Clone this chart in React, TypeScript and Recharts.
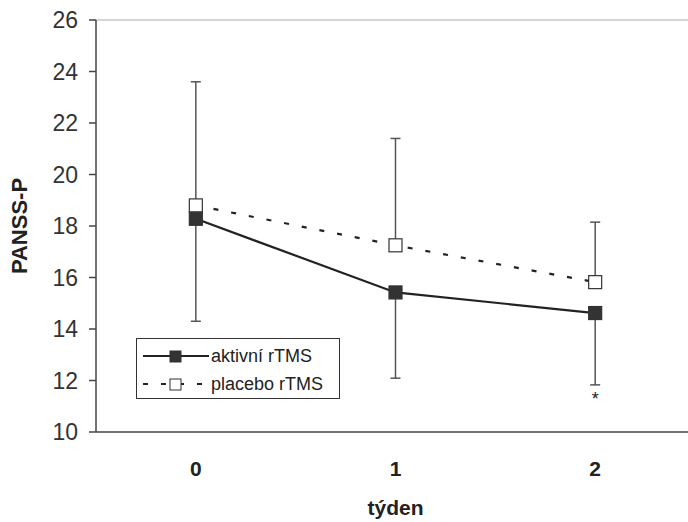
import {
  LineChart,
  Line,
  XAxis,
  YAxis,
  ErrorBar,
  ReferenceLine,
  ReferenceDot,
} from "recharts";

const weeks = [0, 1, 2];
const aktivni = [18.28, 15.42, 14.62];
const aktivniErrDown = [3.98, 3.33, 2.79];
const placebo = [18.8, 17.25, 15.82];
const placeboErrUp = [4.8, 4.15, 2.33];
const yTicks = [10, 12, 14, 16, 18, 20, 22, 24, 26];
const boundaryTicks = [-0.5, 0.5, 1.5, 2.5];
const seriesNames = ["aktivní rTMS", "placebo rTMS"];
// week 2 aktivní is significant (*), marked under its error bar
const sigWeek = 2;

const data = weeks.map((w, i) => ({
  week: w,
  aktivni: aktivni[i],
  aktivniErr: [aktivniErrDown[i], 0],
  placebo: placebo[i],
  placeboErr: [0, placeboErrUp[i]],
}));

const FONT = '"Liberation Sans", Arial, sans-serif';

function Square({ cx, cy, fill }: { cx?: number; cy?: number; fill: string }) {
  if (cx == null || cy == null) return null;
  const s = 13;
  return (
    <rect
      x={cx - s / 2}
      y={cy - s / 2}
      width={s}
      height={s}
      fill={fill}
      stroke="#333"
      strokeWidth={1.2}
    />
  );
}

function LegendBox() {
  return (
    <div
      style={{
        position: "absolute",
        left: 136,
        top: 338,
        border: "1.5px solid #333",
        background: "#fff",
        width: 204,
        height: 61,
        boxSizing: "border-box",
        fontFamily: FONT,
        fontSize: 18,
        color: "#222",
        padding: "3px 0 0 6px",
      }}
    >
      <div style={{ display: "flex", alignItems: "center", height: 28 }}>
        <svg width={66} height={16}>
          <line x1={0} y1={8} x2={66} y2={8} stroke="#222" strokeWidth={2} />
          <rect x={27} y={3} width={11} height={11} fill="#333" stroke="#333" />
        </svg>
        <span style={{ marginLeft: 2 }}>{seriesNames[0]}</span>
      </div>
      <div style={{ display: "flex", alignItems: "center", height: 28 }}>
        <svg width={66} height={16}>
          <line x1={0} y1={8} x2={66} y2={8} stroke="#222" strokeWidth={2} strokeDasharray="5 13" />
          <rect x={27} y={3} width={11} height={11} fill="#fff" stroke="#333" />
        </svg>
        <span style={{ marginLeft: 2 }}>{seriesNames[1]}</span>
      </div>
    </div>
  );
}

export default function App() {
  return (
    <div
      style={{
        position: "absolute",
        left: 0,
        top: 0,
        width: 688,
        height: 522,
        overflow: "hidden",
        background: "#fff",
      }}
    >
      <LineChart
        width={700}
        height={522}
        data={data}
        margin={{ top: 20, right: 5, left: 0, bottom: 0 }}
      >
        <XAxis
          xAxisId="b"
          dataKey="week"
          type="number"
          domain={[-0.5, 2.5]}
          ticks={boundaryTicks}
          tick={false}
          tickSize={6}
          height={8}
          axisLine={{ stroke: "#444", strokeWidth: 1.5 }}
          tickLine={{ stroke: "#444", strokeWidth: 1.5 }}
        />
        <XAxis
          xAxisId="l"
          dataKey="week"
          type="number"
          domain={[-0.5, 2.5]}
          ticks={weeks}
          height={82}
          axisLine={false}
          tickLine={false}
          tickSize={0}
          tickMargin={21}
          tick={{ fontSize: 21, fontWeight: "bold", fill: "#222", fontFamily: FONT }}
          label={{
            value: "týden",
            position: "insideBottom",
            offset: 7,
            style: { fontSize: 21, fontWeight: "bold", fill: "#222", fontFamily: FONT },
          }}
        />
        <YAxis
          domain={[10, 26]}
          ticks={yTicks}
          width={96}
          tickSize={7}
          tickMargin={11}
          axisLine={{ stroke: "#444", strokeWidth: 1.5 }}
          tickLine={{ stroke: "#444", strokeWidth: 1.5 }}
          tick={{ fontSize: 23, fill: "#333", fontFamily: FONT }}
          label={{
            value: "PANSS-P",
            angle: -90,
            position: "insideLeft",
            offset: 19,
            style: { fontSize: 22, fontWeight: "bold", fill: "#222", fontFamily: FONT, textAnchor: "middle" },
          }}
        />
        <ReferenceLine xAxisId="b" y={26} stroke="#d6d6d6" strokeWidth={2} />
        <Line
          xAxisId="b"
          type="linear"
          dataKey="placebo"
          stroke="#222"
          strokeWidth={2.2}
          strokeDasharray="5 13"
          dot={(p: any) => <Square key={`p${p.index}`} cx={p.cx} cy={p.cy} fill="#fff" />}
          activeDot={false}
          isAnimationActive={false}
        >
          <ErrorBar dataKey="placeboErr" width={5} stroke="#555" strokeWidth={1.5} direction="y" />
        </Line>
        <Line
          xAxisId="b"
          type="linear"
          dataKey="aktivni"
          stroke="#222"
          strokeWidth={2.2}
          dot={(p: any) => <Square key={`a${p.index}`} cx={p.cx} cy={p.cy} fill="#333" />}
          activeDot={false}
          isAnimationActive={false}
        >
          <ErrorBar dataKey="aktivniErr" width={5} stroke="#555" strokeWidth={1.5} direction="y" />
        </Line>
        <ReferenceDot
          xAxisId="b"
          x={weeks[sigWeek]}
          y={aktivni[sigWeek] - aktivniErrDown[sigWeek]}
          r={0}
          stroke="none"
          label={{ value: "*", position: "bottom", offset: 7, style: { fontSize: 18, fill: "#222", fontFamily: FONT } }}
        />
      </LineChart>
      <LegendBox />
    </div>
  );
}
